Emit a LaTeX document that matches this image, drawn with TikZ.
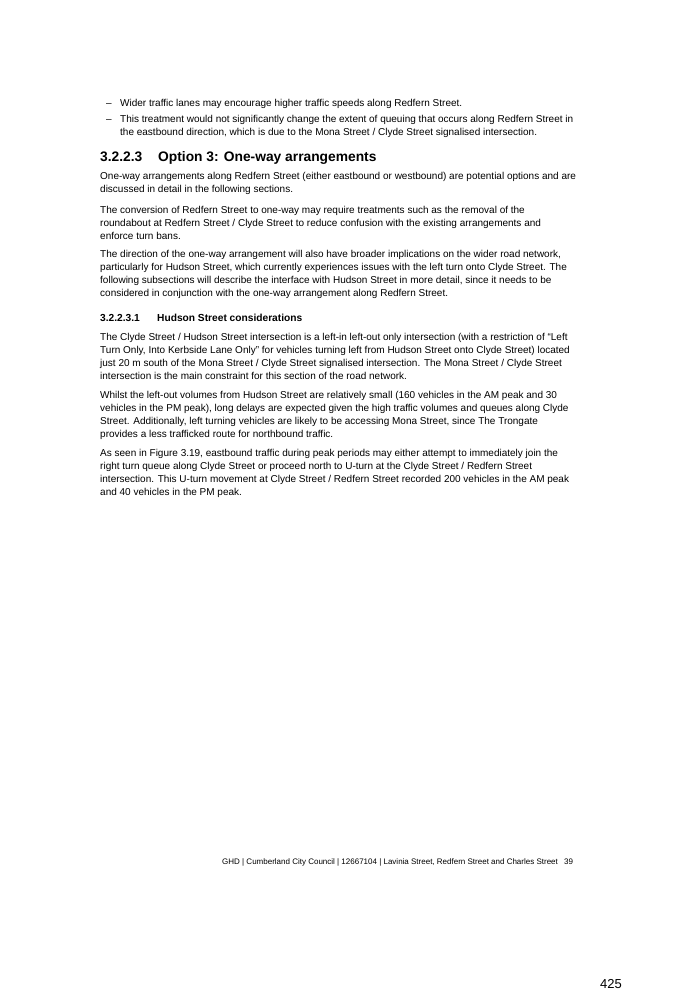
\documentclass[tikz,border=0pt]{standalone}
\usepackage{fontspec}
\setmainfont{Liberation Sans}
\usetikzlibrary{positioning}

\tikzset{
  txt/.style={anchor=base west, inner sep=0pt, font=\fontsize{10}{12}\selectfont},
  head/.style={anchor=base west, inner sep=0pt, font=\fontsize{13.8}{16}\selectfont\bfseries},
  subhead/.style={anchor=base west, inner sep=0pt, font=\fontsize{10.2}{12}\selectfont\bfseries},
  foot/.style={anchor=base west, inner sep=0pt, font=\fontsize{8}{9}\selectfont}
}

\begin{document}
\begin{tikzpicture}[x=1pt, y=-1pt]
  \useasboundingbox[fill=white] (0,0) rectangle (682,989);
  % bullet list
  \node[txt] (d1) at (106,106) {--};
  \node[txt] (l1) at (120,106) {Wider traffic lanes may encourage higher traffic speeds along Redfern Street.};
  \node[txt] (d2) at (106,122) {--};
  \node[txt] (l2) at (120,122) {This treatment would not significantly change the extent of queuing that occurs along Redfern Street in};
  \node[txt] (l3) at (120,135) {the eastbound direction, which is due to the Mona Street / Clyde Street signalised intersection.};
  % heading
  \node[head] (h1n) at (100,161) {3.2.2.3};
  \node[head] (h1) at (158,161) {Option 3: One-way arrangements};
  \node[txt] (l4) at (100,179) {One-way arrangements along Redfern Street (either eastbound or westbound) are potential options and are};
  \node[txt] (l5) at (100,192) {discussed in detail in the following sections.};
  \node[txt] (l6) at (100,213) {The conversion of Redfern Street to one-way may require treatments such as the removal of the};
  \node[txt] (l7) at (100,226) {roundabout at Redfern Street / Clyde Street to reduce confusion with the existing arrangements and};
  \node[txt] (l8) at (100,239) {enforce turn bans.};
  \node[txt] (l9) at (100,257) {The direction of the one-way arrangement will also have broader implications on the wider road network,};
  \node[txt] (l10) at (100,270) {particularly for Hudson Street, which currently experiences issues with the left turn onto Clyde Street. The};
  \node[txt] (l11) at (100,283) {following subsections will describe the interface with Hudson Street in more detail, since it needs to be};
  \node[txt] (l12) at (100,296) {considered in conjunction with the one-way arrangement along Redfern Street.};
  % sub heading
  \node[subhead] (h2n) at (100,321) {3.2.2.3.1};
  \node[subhead] (h2) at (157,321) {Hudson Street considerations};
  \node[txt] (l13) at (100,340) {The Clyde Street / Hudson Street intersection is a left-in left-out only intersection (with a restriction of ``Left};
  \node[txt] (l14) at (100,353) {Turn Only, Into Kerbside Lane Only'' for vehicles turning left from Hudson Street onto Clyde Street) located};
  \node[txt] (l15) at (100,366) {just 20 m south of the Mona Street / Clyde Street signalised intersection. The Mona Street / Clyde Street};
  \node[txt] (l16) at (100,379) {intersection is the main constraint for this section of the road network.};
  \node[txt] (l17) at (100,398) {Whilst the left-out volumes from Hudson Street are relatively small (160 vehicles in the AM peak and 30};
  \node[txt] (l18) at (100,411) {vehicles in the PM peak), long delays are expected given the high traffic volumes and queues along Clyde};
  \node[txt] (l19) at (100,424) {Street. Additionally, left turning vehicles are likely to be accessing Mona Street, since The Trongate};
  \node[txt] (l20) at (100,437) {provides a less trafficked route for northbound traffic.};
  \node[txt] (l21) at (100,456) {As seen in Figure 3.19, eastbound traffic during peak periods may either attempt to immediately join the};
  \node[txt] (l22) at (100,469) {right turn queue along Clyde Street or proceed north to U-turn at the Clyde Street / Redfern Street};
  \node[txt] (l23) at (100,482) {intersection. This U-turn movement at Clyde Street / Redfern Street recorded 200 vehicles in the AM peak};
  \node[txt] (l24) at (100,495) {and 40 vehicles in the PM peak.};
  % footer
  \node[foot] (ft) at (222,864) {GHD | Cumberland City Council | 12667104 | Lavinia Street, Redfern Street and Charles Street};
  \node[foot] (pg) at (564,864) {39};
  \node[anchor=base west, inner sep=0pt, font=\fontsize{13}{15}\selectfont] (num) at (600,988) {425};
\end{tikzpicture}
\end{document}
